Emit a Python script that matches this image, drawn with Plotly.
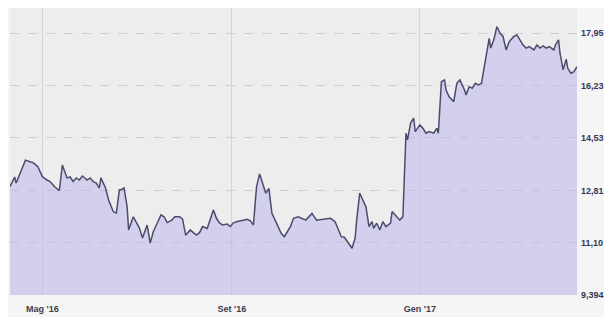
import plotly.graph_objects as go

dates = [
    "2016-04-10", "2016-04-13", "2016-04-14", "2016-04-16", "2016-04-20", "2016-04-23",
    "2016-04-25", "2016-04-28", "2016-05-01", "2016-05-04", "2016-05-06", "2016-05-09",
    "2016-05-12", "2016-05-14", "2016-05-17", "2016-05-19", "2016-05-21", "2016-05-23",
    "2016-05-25", "2016-05-27", "2016-05-30", "2016-06-01", "2016-06-03", "2016-06-05",
    "2016-06-07", "2016-06-08", "2016-06-11", "2016-06-13", "2016-06-16", "2016-06-18",
    "2016-06-20", "2016-06-21", "2016-06-23", "2016-06-25", "2016-06-26", "2016-06-29",
    "2016-07-01", "2016-07-03", "2016-07-05", "2016-07-08", "2016-07-10", "2016-07-12",
    "2016-07-14", "2016-07-17", "2016-07-19", "2016-07-21", "2016-07-24", "2016-07-26",
    "2016-07-29", "2016-07-31", "2016-08-02", "2016-08-05", "2016-08-07", "2016-08-09",
    "2016-08-11", "2016-08-13", "2016-08-16", "2016-08-18", "2016-08-20", "2016-08-22",
    "2016-08-24", "2016-08-26", "2016-08-29", "2016-08-31", "2016-09-02", "2016-09-04",
    "2016-09-06", "2016-09-08", "2016-09-11", "2016-09-13", "2016-09-15", "2016-09-17",
    "2016-09-19", "2016-09-21", "2016-09-23", "2016-09-25", "2016-09-27", "2016-09-30",
    "2016-10-03", "2016-10-05", "2016-10-09", "2016-10-11", "2016-10-14", "2016-10-19",
    "2016-10-23", "2016-10-26", "2016-10-30", "2016-11-04", "2016-11-07", "2016-11-09",
    "2016-11-11", "2016-11-13", "2016-11-15", "2016-11-18", "2016-11-20", "2016-11-21",
    "2016-11-23", "2016-11-25", "2016-11-27", "2016-11-29", "2016-12-01", "2016-12-02",
    "2016-12-04", "2016-12-06", "2016-12-08", "2016-12-10", "2016-12-13", "2016-12-14",
    "2016-12-17", "2016-12-19", "2016-12-21", "2016-12-23", "2016-12-24", "2016-12-26",
    "2016-12-28", "2016-12-29", "2017-01-01", "2017-01-03", "2017-01-05", "2017-01-07",
    "2017-01-10", "2017-01-12", "2017-01-13", "2017-01-15", "2017-01-17", "2017-01-18",
    "2017-01-20", "2017-01-23", "2017-01-25", "2017-01-27", "2017-01-30", "2017-01-31",
    "2017-02-02", "2017-02-04", "2017-02-06", "2017-02-08", "2017-02-10", "2017-02-12",
    "2017-02-14", "2017-02-15", "2017-02-16", "2017-02-18", "2017-02-20", "2017-02-22",
    "2017-02-24", "2017-02-26", "2017-02-28", "2017-03-03", "2017-03-05", "2017-03-07",
    "2017-03-09", "2017-03-11", "2017-03-13", "2017-03-16", "2017-03-18", "2017-03-20",
    "2017-03-22", "2017-03-24", "2017-03-26", "2017-03-29", "2017-03-30", "2017-04-01",
    "2017-04-02", "2017-04-04", "2017-04-06", "2017-04-07", "2017-04-09", "2017-04-11",
    "2017-04-13",
]

prices = [
    12.93, 13.25, 13.05, 13.32, 13.80, 13.75,
    13.72, 13.59, 13.26, 13.15, 13.10, 12.93,
    12.80, 13.64, 13.22, 13.25, 13.10, 13.22,
    13.15, 13.28, 13.15, 13.22, 13.10, 13.05,
    12.89, 13.22, 12.89, 12.50, 12.12, 12.07,
    12.83, 12.83, 12.89, 12.28, 11.52, 11.95,
    11.75, 11.58, 11.26, 11.68, 11.09, 11.46,
    11.68, 12.01, 11.95, 11.76, 11.84, 11.95,
    11.95, 11.87, 11.35, 11.52, 11.43, 11.35,
    11.43, 11.63, 11.57, 11.84, 12.17, 11.90,
    11.75, 11.68, 11.71, 11.63, 11.75, 11.79,
    11.82, 11.84, 11.87, 11.82, 11.68, 12.93,
    13.35, 13.04, 12.72, 12.88, 12.06, 11.74,
    11.41, 11.30, 11.63, 11.90, 11.95, 11.84,
    12.06, 11.84, 11.87, 11.90, 11.79, 11.52,
    11.30, 11.28, 11.14, 10.92, 11.25, 11.84,
    12.72, 12.50, 12.28, 11.63, 11.79, 11.57,
    11.74, 11.52, 11.79, 11.63, 11.74, 12.12,
    11.95, 11.84, 11.95, 14.68, 14.46, 15.01,
    15.17, 14.73, 14.95, 14.84, 14.68, 14.73,
    14.68, 14.84, 14.68, 16.36, 16.42, 16.09,
    15.87, 15.71, 16.31, 16.42, 16.09, 15.93,
    16.20, 16.15, 16.31, 16.26, 16.31, 16.85,
    17.40, 17.78, 17.46, 17.73, 18.16, 17.95,
    17.84, 17.40, 17.67, 17.84, 17.89, 17.73,
    17.56, 17.46, 17.51, 17.40, 17.56, 17.46,
    17.53, 17.46, 17.51, 17.40, 17.56, 17.73,
    17.29, 16.75, 17.10, 16.80, 16.64, 16.69,
    16.85,
]

x_tick_vals = ["2016-05-01", "2016-09-01", "2017-01-01"]
x_tick_text = ["Mag '16", "Set '16", "Gen '17"]

y_tick_vals = [9.394, 11.10, 12.81, 14.53, 16.23, 17.95]
y_tick_text = ["9,394", "11,10", "12,81", "14,53", "16,23", "17,95"]

y_min = 9.394
y_max = 18.77

fig = go.Figure()
fig.add_trace(go.Scatter(
    x=dates, y=prices, mode="lines",
    line=dict(color="#4b4b6b", width=1.5),
    fill="tozeroy", fillcolor="rgba(190,184,238,0.55)",
    hoverinfo="skip", showlegend=False,
))

fig.update_layout(
    width=604, height=309,
    margin=dict(l=2, r=35, t=0, b=22),
    paper_bgcolor="#f5f5f5",
    plot_bgcolor="#ededed",
    xaxis=dict(
        type="date",
        range=[dates[0], dates[-1]],
        tickvals=x_tick_vals, ticktext=x_tick_text,
        showgrid=True, gridcolor="#d4d4d4", gridwidth=1,
        zeroline=False, showline=False, ticks="",
        ticklabelstandoff=7,
        tickfont=dict(family="Liberation Sans, Arial", size=9, color="#3c3c50", weight="bold"),
    ),
    yaxis=dict(
        range=[y_min, y_max],
        side="right",
        tickvals=y_tick_vals, ticktext=y_tick_text,
        showgrid=True, gridcolor="#cdcdcd", gridwidth=1, griddash="dash",
        zeroline=False, showline=False, ticks="",
        ticklabelstandoff=3,
        tickfont=dict(family="Liberation Sans, Arial", size=9, color="#35355a", weight="bold"),
    ),
)

fig.write_html("out.html")
